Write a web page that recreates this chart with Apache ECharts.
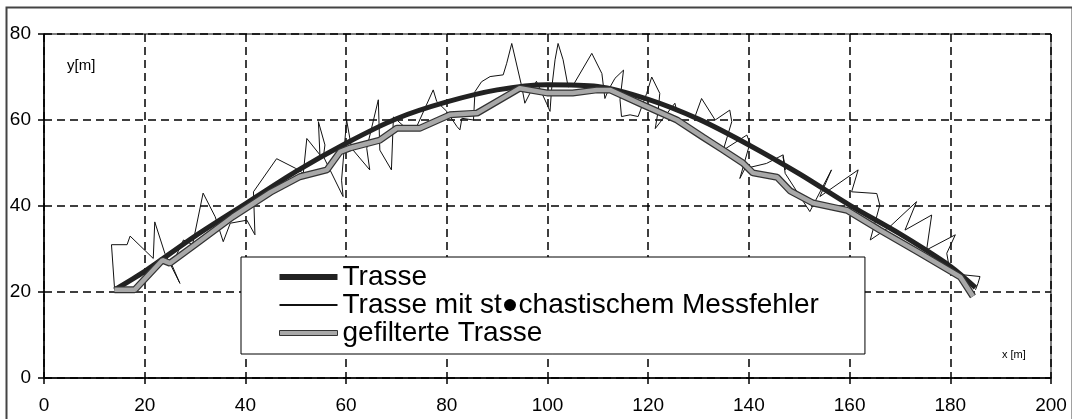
<!DOCTYPE html>
<html>
<head>
<meta charset="utf-8">
<script src="https://cdn.jsdelivr.net/npm/echarts@6/dist/echarts.min.js"></script>
<style>
  html, body { margin: 0; padding: 0; background: #fff; }
  #main { width: 1072px; height: 419px; }
</style>
</head>
<body>
<div id="main"></div>
<script>
   // Achsen
   var X_TICKS = [0, 20, 40, 60, 80, 100, 120, 140, 160, 180, 200];
   var Y_TICKS = [0, 20, 40, 60, 80];
   var NAMES = ['Trasse', 'Trasse mit st\u25CFchastischem Messfehler', 'gefilterte Trasse'];

   // Trasse (Soll)
   var TRASSE_X = [14, 20, 30, 40, 50, 60, 70, 80, 90, 100, 110, 120, 130, 140, 150, 160, 170, 180, 185];
   var TRASSE_Y = [20.5, 24.8, 33, 40.5, 48, 54.6, 60.3, 64.2, 67, 68.2, 67.8, 64.8, 60.2, 54.2, 47.5, 40.2, 33.5, 26, 21];

   // Trasse mit stochastischem Messfehler
   var MESS_X = [14, 13.4, 16.5, 17.1, 21.7, 22, 24, 27, 25.4, 27.7, 29.5, 31.6, 34, 35.6, 37, 40.3, 41.9, 41.6, 46.2,
       49.9, 51.5, 52.2, 54.8, 54.5, 55.8, 55.5, 59.4, 59.1, 60.1, 61.1, 64.7, 64.1, 66.4, 66.7, 69, 69.4, 72, 74,
       77.3, 78, 80, 82, 82.6, 83, 85.3, 85.6, 86.9, 88.6, 91.2, 91.9, 92.9, 94.9, 95.5, 96.5, 97.8, 99.8, 100.5,
       100.8, 101.5, 102.1, 103.1, 104.1, 105.1, 108.8, 110.8, 111.4, 112.1, 113.4, 115.1, 114.4, 114.7, 116.4, 118,
       119.7, 120.7, 122.3, 122, 121.4, 125.3, 125.7, 127.6, 129.3, 130.6, 133.3, 136.2, 136.6, 134.9, 139.6, 140.2,
       138.2, 139.2, 143.5, 146.8, 147.2, 146.8, 147.2, 152.1, 156.4, 154.1, 161.7, 160.4, 165.4, 166, 164.1, 168,
       173.3, 171, 176.3, 175.3, 181, 179.3, 180, 185.9, 185.5, 185];
   var MESS_Y = [21, 31, 31, 33, 27.8, 36.3, 29, 22, 26.3, 32.1, 31, 43, 37.5, 31.7, 36, 36.7, 33.3, 43.3, 51,
       48.8, 47.6, 55.7, 51.9, 59.6, 54.2, 51.5, 42.2, 46, 60, 53.4, 48.4, 53.4, 64.7, 53, 48.4, 60.7, 58, 58.4,
       67, 64.3, 62, 58.5, 57.7, 60.4, 60, 66.6, 68.9, 70.1, 70.5, 73.2, 77.8, 67.7, 63.9, 66.2, 69, 63.9, 62,
       67, 74, 77.8, 74, 67.7, 68.1, 75.5, 70.8, 65, 67, 69.7, 71.6, 64.7, 60.8, 61.2, 60.8,
       66.2, 70, 66.2, 62.3, 58, 63.9, 62, 61.2, 60.8, 65, 60, 62.3, 59.6, 53, 56.5, 54.6,
       46.4, 48.7, 49.9, 51.9, 48.4, 51.5, 47.6, 38.7, 48.4, 42.2, 48.4, 43.3, 42.9, 40.2, 32.1, 35.2,
       41, 34.4, 37.9, 29.8, 33.3, 29, 24.3, 23.6, 22, 20.5];

   // gefilterte Trasse
   var FILT_X = [14, 18, 23.5, 25, 30, 37.5, 45, 50.8, 56.2, 58.8, 60.8, 66.7, 70.1, 74.7, 80.6, 86, 94.5, 99.9,
       105, 109.8, 112.4, 119, 125.7, 130.9, 134.9, 138.8, 140.8, 145.6, 148.2, 152.7, 159.5, 166, 174, 182, 184.5];
   var FILT_Y = [20.5, 20.5, 27.4, 26.7, 31, 37.5, 43.2, 46.8, 48.4, 52.6, 53.5, 55.3, 58.1, 58.1, 61.2, 61.6, 67.4, 66.3,
       66.3, 67, 67, 63.5, 60, 56, 53, 50, 47.7, 46.7, 43.5, 40.7, 39, 34.4, 29, 23.5, 19];

function zip(xs, ys){
    var out = [];
    for(var i=0;i<xs.length;i++){
        out.push([xs[i], ys[i]]);
    }
    return out;
}

var FONT = '"Liberation Sans", Arial, sans-serif';
var chart = echarts.init(document.getElementById('main'));

chart.setOption({
    animation: false,
    backgroundColor: '#fff',
    grid: {
        left: 44,
        right: 21,
        top: 34,
        bottom: 41,
        show: true,
        borderColor: '#000',
        borderWidth: 1,
        containLabel: false,
        outerBoundsMode: 'none'
    },
    legend: {
        data: [
            {name: NAMES[0], icon: 'path://M0,0H58V6H0Z'},
            {name: NAMES[1], icon: 'path://M0,0H58V2H0Z'},
            {name: NAMES[2], icon: 'path://M0,0H58V5H0Z', itemStyle: {color: '#a8a8a8', borderColor: '#333', borderWidth: 1}}
        ],
        orient: 'vertical',
        left: 241,
        top: 257,
        itemWidth: 58,
        itemHeight: 6,
        itemGap: 0,
        padding: [6, 46, 7, 38],
        backgroundColor: '#fff',
        borderColor: '#000',
        borderWidth: 1,
        selectedMode: false,
        z: 10,
        textStyle: {
            fontFamily: FONT,
            fontSize: 28,
            lineHeight: 26,
            color: '#000'
        }
    },
    xAxis: {
        type: 'value',
        min: X_TICKS[0],
        max: X_TICKS[X_TICKS.length-1],
        interval: 20,
        axisLine: {show: true, onZero: false, lineStyle: {color: '#000', width: 1.5}},
        axisTick: {show: true, length: 6, lineStyle: {color: '#000', width: 1.5}},
        axisLabel: {margin: 18, color: '#000', fontFamily: FONT, fontSize: 19},
        splitLine: {show: true, lineStyle: {color: '#000', width: 1.5, type: [8, 5]}}
    },
    yAxis: {
        type: 'value',
        min: Y_TICKS[0],
        max: Y_TICKS[Y_TICKS.length-1],
        interval: 20,
        axisLine: {show: true, onZero: false, lineStyle: {color: '#000', width: 1.5}},
        axisTick: {show: true, length: 6, lineStyle: {color: '#000', width: 1.5}},
        axisLabel: {margin: 13, color: '#000', fontFamily: FONT, fontSize: 19},
        splitLine: {show: true, lineStyle: {color: '#000', width: 1.5, type: [8, 5]}}
    },
    graphic: [
        // Rahmen
        {type: 'rect', left: 4, top: 5, shape: {width: 1066, height: 440}, style: {fill: null, stroke: '#444', lineWidth: 2}, silent: true},
        {type: 'text', left: 67, top: 58, style: {text: 'y[m]', font: '15px ' + FONT, fill: '#000'}},
        {type: 'text', left: 1002, top: 349, style: {text: 'x [m]', font: '11px ' + FONT, fill: '#000'}}
    ],
    series: [
        {
            name: NAMES[1],
            type: 'line',
            data: zip(MESS_X, MESS_Y),
            symbol: 'none',
            color: '#111',
            lineStyle: {color: '#111', width: 1},
            z: 2
        },
        {
            name: NAMES[0],
            type: 'line',
            data: zip(TRASSE_X, TRASSE_Y),
            symbol: 'none',
            smooth: 0.3,
            color: '#222',
            lineStyle: {color: '#222', width: 5},
            z: 3
        },
        {
            // Rand der gefilterten Trasse
            name: 'rand',
            type: 'line',
            data: zip(FILT_X, FILT_Y),
            symbol: 'none',
            lineStyle: {color: '#333', width: 7},
            z: 4
        },
        {
            name: NAMES[2],
            type: 'line',
            data: zip(FILT_X, FILT_Y),
            symbol: 'none',
            color: '#a8a8a8',
            lineStyle: {color: '#a8a8a8', width: 4.5},
            z: 5
        }
    ]
});
</script>
</body>
</html>
